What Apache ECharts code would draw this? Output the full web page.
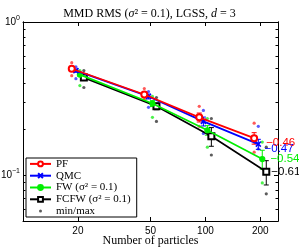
<!DOCTYPE html>
<html><head><meta charset="utf-8">
<script src="https://cdn.jsdelivr.net/npm/echarts@6/dist/echarts.min.js"></script>
<style>html,body{margin:0;padding:0;background:#fff}#c{width:299px;height:249px}</style>
</head><body><div id="c"></div>
<script>
// ---- data ----
const particles = [20, 50, 100, 200];
const names = ['PF', 'QMC', 'FW (σ² = 0.1)', 'FCFW (σ² = 0.1)'];
const pfMean   = [0.495, 0.336, 0.238, 0.174];
const qmcMean  = [0.481, 0.326, 0.224, 0.159];
const fwMean   = [0.453, 0.293, 0.196, 0.127];
const fcfwMean = [0.433, 0.281, 0.179, 0.105];
const pfStd   = [0.012, 0.012, 0.016, 0.015];
const qmcStd  = [0.012, 0.012, 0.015, 0.012];
const fwStd   = [0.012, 0.013, 0.014, 0.018];
const fcfwStd = [0.010, 0.014, 0.025, 0.019];
const pfMax   = [0.542, 0.367, 0.281, 0.218];
const pfMin   = [0.446, 0.312, 0.208, 0.141];
const qmcMax  = [0.510, 0.351, 0.264, 0.208];
const qmcMin  = [0.426, 0.277, 0.187, 0.148];
const fwMax   = [0.481, 0.326, 0.234, 0.164];
const fwMin   = [0.384, 0.238, 0.152, 0.0887];
const fcfwMax = [0.481, 0.321, 0.234, 0.152];
const fcfwMin = [0.373, 0.224, 0.135, 0.0753];
const slopes = ['−0.46', '−0.47', '−0.54', '−0.61'];
const xTicks = [20, 50, 100, 200];
const yMajorTicks = [0.1, 1];
const yMinorTicks = [0.05, 0.06, 0.07, 0.08, 0.09, 0.2, 0.3, 0.4, 0.5, 0.6, 0.7, 0.8, 0.9];

// ---- styling / layout ----
const colors = ['#ff0000', '#0000ff', '#00ee00', '#000000'];
const dotColors = ['#ff3030', '#3030ff', '#20ee20', '#333333'];
const jitter = [0.925, 0.975, 1.025, 1.078];
const symbols = ['emptyCircle', 'path://M0,0L10,10M10,0L0,10', 'circle', 'emptyRect'];
const symbolSizes = [6, 5, 5, 6];
const labelPos = [{d: 8, dy: 5}, {d: 3, dy: 5}, {d: 5, dy: 0}, {d: 1, dy: 0}];

const means = [pfMean, qmcMean, fwMean, fcfwMean];
const stds = [pfStd, qmcStd, fwStd, fcfwStd];
const maxs = [pfMax, qmcMax, fwMax, fcfwMax];
const mins = [pfMin, qmcMin, fwMin, fcfwMin];

const serif = 'Liberation Serif';
const sans = 'Liberation Sans';

const series = [];
for (let k = 0; k < 4; k++) {
  // error bars
  series.push({
    type: 'custom', name: names[k] + '_err', silent: true, z: 2,
    xAxisIndex: 0, yAxisIndex: 0,
    encode: {x: 0, y: [1, 2]},
    renderItem(params, api) {
      const x = api.value(0), lo = api.value(1), hi = api.value(2);
      const a = api.coord([x, lo]), b = api.coord([x, hi]);
      const w = 2.5;
      const st = {stroke: colors[k], lineWidth: 1};
      return {type: 'group', children: [
        {type: 'line', shape: {x1: a[0], y1: a[1], x2: b[0], y2: b[1]}, style: st},
        {type: 'line', shape: {x1: a[0] - w, y1: a[1], x2: a[0] + w, y2: a[1]}, style: st},
        {type: 'line', shape: {x1: b[0] - w, y1: b[1], x2: b[0] + w, y2: b[1]}, style: st}
      ]};
    },
    data: particles.map((n, i) => [n * jitter[k], means[k][i] - stds[k][i], means[k][i] + stds[k][i]])
  });
  // min / max dots
  const mm = [];
  particles.forEach((n, i) => { mm.push([n * jitter[k], maxs[k][i]]); mm.push([n * jitter[k], mins[k][i]]); });
  series.push({
    type: 'scatter', name: names[k] + '_mm', silent: true, z: 1,
    symbol: 'circle', symbolSize: 3.2,
    itemStyle: {color: dotColors[k]},
    data: mm
  });
  // mean line
  const lp = labelPos[k];
  series.push({
    type: 'line', name: names[k], z: 5 - k * 0.1,
    symbol: symbols[k], symbolSize: symbolSizes[k], showSymbol: true,
    lineStyle: {color: colors[k], width: 1.7},
    itemStyle: {color: colors[k], borderColor: colors[k], borderWidth: k === 1 ? 1.5 : 1.2},
    animation: false,
    data: particles.map((n, i) => {
      const item = {value: [n * jitter[k], means[k][i]]};
      if (i === particles.length - 1) {
        item.label = {show: true, position: 'right', distance: lp.d, offset: [0, lp.dy],
          formatter: slopes[k], color: colors[k], fontFamily: sans, fontSize: 11.5};
      }
      return item;
    })
  });
}
// legend-only entry
series.push({type: 'scatter', name: 'min/max', data: [], itemStyle: {color: '#333'}});

const supFmt = v => {
  const e = Math.round(Math.log10(v));
  return '{b|10}{s|' + (e < 0 ? '−' + (-e) : e) + '}';
};
const richSup = {
  b: {fontFamily: sans, fontSize: 10, color: '#000'},
  s: {fontFamily: sans, fontSize: 7, color: '#000', padding: [0, 0, 8, 0]}
};

const xBase = {
  type: 'log', min: 10, max: 250, splitLine: {show: false},
  axisLine: {show: true, onZero: false, lineStyle: {color: '#000', width: 1}},
  axisTick: {show: true, inside: true, length: 4, customValues: xTicks, lineStyle: {color: '#000'}},
};
const yBase = {
  type: 'log', min: 0.05, max: 1, splitLine: {show: false},
  axisLine: {show: true, onZero: false, lineStyle: {color: '#000', width: 1}},
};

const option = {
  animation: false,
  backgroundColor: '#fff',
  title: {
    text: '{n|MMD RMS (}{i|σ}{n|² = 0.1), LGSS, }{i|d}{n| = 3}',
    left: 'center', top: 3,
    textStyle: {fontWeight: 'normal', rich: {
      n: {fontFamily: serif, fontSize: 12, fontWeight: 'normal', color: '#000'},
      i: {fontFamily: serif, fontSize: 12, fontWeight: 'normal', fontStyle: 'italic', color: '#000'}
    }}
  },
  grid: {left: 23, right: 21, top: 22, bottom: 28, containLabel: false, outerBoundsMode: 'none'},
  xAxis: [
    Object.assign({}, xBase, {
      position: 'bottom',
      axisLabel: {customValues: xTicks, color: '#000', fontFamily: sans, fontSize: 10, margin: 5},
      name: 'Number of particles', nameLocation: 'middle', nameGap: 14, nameMoveOverlap: false,
      nameTextStyle: {fontFamily: serif, fontSize: 12, color: '#000'}
    }),
    Object.assign({}, xBase, {position: 'top', axisLabel: {show: false}})
  ],
  yAxis: [
    Object.assign({}, yBase, {
      position: 'left',
      axisTick: {show: true, inside: true, length: 4, customValues: yMajorTicks, lineStyle: {color: '#000'}},
      axisLabel: {customValues: yMajorTicks, formatter: supFmt, rich: richSup, margin: 3}
    }),
    Object.assign({}, yBase, {
      position: 'right',
      axisTick: {show: true, inside: true, length: 4, customValues: yMajorTicks, lineStyle: {color: '#000'}},
      axisLabel: {show: false}
    }),
    Object.assign({}, yBase, {
      position: 'left',
      axisTick: {show: true, inside: true, length: 2.5, customValues: yMinorTicks, lineStyle: {color: '#000'}},
      axisLabel: {show: false}
    }),
    Object.assign({}, yBase, {
      position: 'right',
      axisTick: {show: true, inside: true, length: 2.5, customValues: yMinorTicks, lineStyle: {color: '#000'}},
      axisLabel: {show: false}
    })
  ],
  legend: {
    orient: 'vertical', left: 26, top: 158,
    backgroundColor: '#fff', borderColor: '#000', borderWidth: 1,
    padding: [0, 6, 0, 3], itemWidth: 21, itemHeight: 6, itemGap: 0,
    textStyle: {fontFamily: serif, fontSize: 11, color: '#000', lineHeight: 11.8},
    data: names.concat([{name: 'min/max', icon: 'path://M0,0L0,0M21,6L21,6M9,3a1.5,1.5 0 1,0 3,0a1.5,1.5 0 1,0 -3,0z', itemStyle: {color: '#333'}}]),
    selectedMode: false
  },
  series: series
};
const chart = echarts.init(document.getElementById('c'), null, {renderer: 'canvas'});
chart.setOption(option);
</script>
</body></html>
